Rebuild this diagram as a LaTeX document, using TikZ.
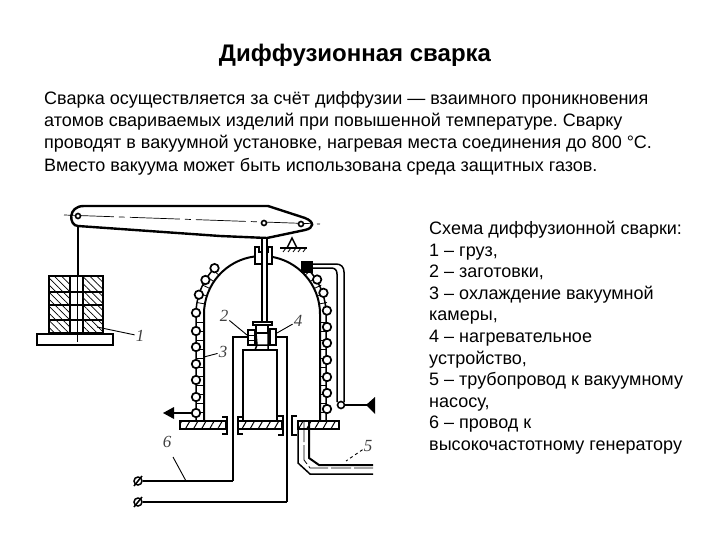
\documentclass[tikz,border=0pt]{standalone}
\usepackage{fontspec}
\setmainfont{Liberation Sans}
\newfontfamily\labelfont{Liberation Serif}
\usetikzlibrary{patterns.meta}
\frenchspacing
\tikzstyle{titletext} = [font=\fontsize{24}{28}\selectfont\bfseries, inner sep=0pt]
\tikzstyle{bodytext} = [font=\fontsize{18}{22.3}\selectfont, align=left, anchor=north west, inner sep=0pt]
\tikzstyle{legendtext} = [bodytext, font=\fontsize{18}{21.6}\selectfont]
\tikzstyle{partlabel} = [font=\fontsize{17}{17}\selectfont\labelfont\itshape, text=black!75, inner sep=1pt]
\tikzstyle{thin line} = [draw, line width=0.8pt]
\tikzstyle{wall} = [draw, line width=1.5pt]
\tikzstyle{heavy} = [draw, line width=2.4pt]
\tikzstyle{leader} = [draw, line width=0.9pt]
\tikzstyle{axis} = [draw, line width=0.7pt, dash pattern=on 50pt off 5pt on 6pt off 5pt]
\tikzstyle{hatchw} = [pattern={Lines[angle=-45,distance=5pt,line width=0.7pt]}]
\tikzstyle{hatchf} = [pattern={Lines[angle=60,distance=7pt,line width=1pt]}]
\tikzstyle{turn} = [circle, draw, line width=1.7pt, fill=white, minimum size=8.5pt, inner sep=0pt]
\tikzstyle{pin} = [circle, draw, line width=1.6pt, fill=white, minimum size=5pt, inner sep=0pt]
\begin{document}
\begin{tikzpicture}[x=1pt, y=-1pt]
    \useasboundingbox (0,0) rectangle (720,540);
    % Place text
    \node [titletext] (title) at (355,55) {Диффузионная сварка};
    \node [bodytext] (intro) at (44,91) {Сварка осуществляется за счёт диффузии — взаимного проникновения\\
        атомов свариваемых изделий при повышенной температуре. Сварку\\
        проводят в вакуумной установке, нагревая места соединения до 800 °С.\\
        Вместо вакуума может быть использована среда защитных газов.};
    \node [legendtext] (legend) at (429,221) {Схема диффузионной сварки:\\ 1 – груз,\\ 2 – заготовки,\\ 3 – охлаждение вакуумной\\ камеры,\\ 4 – нагревательное\\ устройство,\\ 5 – трубопровод к вакуумному\\ насосу,\\ 6 – провод к\\ высокочастотному генератору};
    % Place points
    \coordinate (domec) at (262,314);
    \node [partlabel] (lab1) at (140,336) {1};
    \node [partlabel] (lab2) at (224,316) {2};
    \node [partlabel] (lab3) at (223,352) {3};
    \node [partlabel] (lab4) at (298,321) {4};
    \node [partlabel] (lab5) at (368,446) {5};
    \node [partlabel] (lab6) at (167,442) {6};
    \coordinate (load) at (97,327);
    \coordinate (blank) at (247,335);
    \coordinate (chamber) at (204,357);
    \coordinate (heater) at (277,333);
    \coordinate (pipe) at (346,461);
    \coordinate (lead) at (186,481);
    % Lever and fulcrum
    \draw [heavy] (84,206) -- (268,206) -- (305,218) .. controls (315,222) and (314,228) .. (305,230)
        -- (267,238) -- (220,236) -- (78,226) .. controls (69,226) and (67,206) .. (84,206);
    \path [axis] (64,215) -- (320,224);
    \node [pin] (pinL) at (78,216) {};
    \node [pin] (pinM) at (264,223) {};
    \node [pin] (pinR) at (301,224) {};
    \draw [wall] (287,248) -- (292,238) -- (297,248);
    \draw [wall] (280,248) -- (307,248);
    \foreach \x in {283,288,...,303} \draw [thin line] (\x,252) -- (\x+3,248);
    % Load
    \path [wall] (78,226) -- (78,276);
    \filldraw [wall, fill=white] (37,334) rectangle (113,345);
    \fill [hatchw] (49,276) rectangle (70,333);
    \fill [hatchw] (83,276) rectangle (103,333);
    \draw [wall] (49,276) rectangle (103,333);
    \draw [wall] (70,276) -- (70,333) (83,276) -- (83,333);
    \draw [wall] (49,292) -- (103,292) (49,305) -- (103,305) (49,320) -- (103,320);
    \draw [thin line] (77,276) -- (77,342);
    % Chamber
    \draw [wall, line width=2pt] (204,421) -- (204,314) arc (180:263:58);
    \draw [wall, line width=2pt] (320,421) -- (320,314) arc (360:277:58);
    \foreach \y in {322,331,...,412} {
        \draw [thin line] (196,\y) -- (204,\y);
        \draw [thin line] (320,\y) -- (326,\y);
    }
    \draw [wall] (196,421) -- (196,314) arc (180:228:66);
    \draw [wall] (326,421) -- (326,314) arc (360:316:65);
    \foreach \a in {190,198,...,228} \draw [thin line] ([shift={(\a:58)}]domec) -- ([shift={(\a:66)}]domec);
    \foreach \a in {350,342,...,318} \draw [thin line] ([shift={(\a:58)}]domec) -- ([shift={(\a:66)}]domec);
    \foreach \a in {224,211,197,181} \node [turn] at ([shift={(\a:66)}]domec) {};
    \foreach \y in {331,347,364,380,397,413} \node [turn] at (196,\y) {};
    \foreach \a in {328,341,357} \node [turn] at ([shift={(\a:65)}]domec) {};
    \foreach \y in {327,343,360,377,393,409} \node [turn] at (327,\y) {};
    % Rod and bushing
    \filldraw [wall, fill=white] (255,247) -- (259,247) -- (259,252) -- (268,252) -- (268,247) -- (272,247)
        -- (272,264) -- (255,264) -- cycle;
    \draw [wall, fill=white] (262,238) rectangle (267,322);
    % Work area
    \draw [wall] (233,481) -- (233,337) -- (250,337);
    \draw [wall] (271,337) -- (287,337) -- (287,502);
    \draw [wall] (243,421) -- (243,350) -- (277,350) -- (277,421);
    \filldraw [wall, fill=white] (253,322) rectangle (272,325);
    \draw [wall, fill=white] (256,325) rectangle (268,333);
    \filldraw [wall, fill=white] (248,330) rectangle (255,345);
    \filldraw [wall, fill=white] (270,329) rectangle (276,345);
    \draw [thin line] (248,335) -- (255,335) (248,340) -- (255,340);
    \draw [wall] (256,333) -- (257,345) -- (255,350) (268,333) -- (268,350) (255,345) -- (268,345);
    % Base flanges
    \foreach \xa/\xb in {180/226,238/282,298/339} {
        \fill [hatchf] (\xa,421) rectangle (\xb,429);
        \draw [wall, line width=2pt] (\xa,421) rectangle (\xb,429);
    }
    \draw [wall] (222,417) -- (227,417) -- (227,434) -- (222,434);
    \draw [wall] (243,417) -- (238,417) -- (238,434) -- (243,434);
    \draw [wall] (278,416) -- (283,416) -- (283,435) -- (278,435);
    \draw [wall] (297,416) -- (292,416) -- (292,435) -- (297,435);
    % Pipes
    \filldraw [wall, fill=black] (302,262) rectangle (312,272);
    \draw [wall] (312,264) -- (336,264) .. controls (341,264) and (344,267) .. (344,272) -- (344,402);
    \draw [wall] (312,268) -- (331,268) .. controls (335,268) and (337,270) .. (337,274) -- (337,402);
    \node [pin, minimum size=7pt] (coilR) at (341,405) {};
    \coordinate (feedR) at (368,405);
    \coordinate (feedL) at (192,413);
    \coordinate (tipL) at (174,413);
    \path [wall, line width=2pt] (coilR) -- (feedR);
    \path [wall, line width=2pt] (feedL) -- (tipL);
    \fill (366,405) -- (375,397) -- (375,414) -- cycle;
    \fill (163,413) -- (174,407) -- (174,419) -- cycle;
    \draw [wall] (298,422) -- (298,463) -- (310,474) -- (373,474);
    \draw [thin line, dash pattern=on 20pt off 3pt] (304,422) -- (304,460) -- (310,468) -- (373,468);
    \draw [wall, line width=2pt] (309,422) -- (309,458) -- (319,465) -- (373,465);
    % Generator wires
    \node [circle, draw, line width=1.5pt, minimum size=8pt, inner sep=0pt] (termA) at (138,481) {};
    \node [circle, draw, line width=1.5pt, minimum size=8pt, inner sep=0pt] (termB) at (138,502) {};
    \draw [wall] (134,486) -- (142,476) (134,507) -- (142,497);
    \path [wall] (termA) -- (233,481);
    \path [wall, line width=2pt] (termB) -- (287,502);
    % Draw leaders
    \path [leader] (lab1) -- (load);
    \path [leader] (lab2) -- (blank);
    \path [leader] (lab3) -- (chamber);
    \path [leader] (lab4) -- (heater);
    \path [leader, dashed] (lab5) -- (pipe);
    \coordinate (leadtop) at (173,457);
    \path [leader] (leadtop) -- (lead);
\end{tikzpicture}
\end{document}
